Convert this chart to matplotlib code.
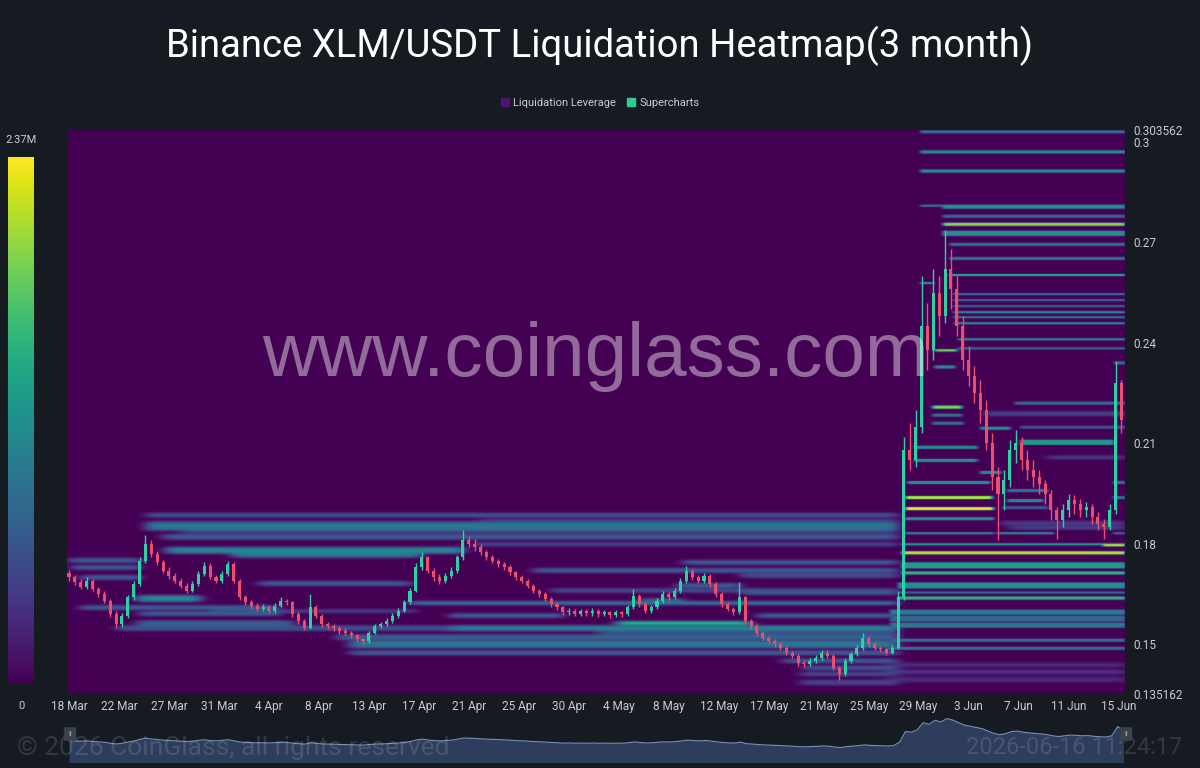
import numpy as np
import matplotlib
matplotlib.use("Agg")
import matplotlib.pyplot as plt
from matplotlib.patches import Patch, FancyBboxPatch

# ---------------- data ----------------
title = "Binance XLM/USDT Liquidation Heatmap(3 month)"
legend_labels = ["Liquidation Leverage", "Supercharts"]

# x axis: days since 18 Mar
x_tick_pos = [0, 4.25, 8.5, 12.75, 17, 21.25, 25.5, 29.75, 34, 38.25, 42.5,
              46.75, 51, 55.25, 59.5, 63.75, 68, 72.25, 76.5, 80.75, 85, 89.25]
x_tick_labels = ["18 Mar", "22 Mar", "27 Mar", "31 Mar", "4 Apr", "8 Apr", "13 Apr",
                 "17 Apr", "21 Apr", "25 Apr", "30 Apr", "4 May", "8 May", "12 May",
                 "17 May", "21 May", "25 May", "29 May", "3 Jun", "7 Jun", "11 Jun", "15 Jun"]
x_range = [-0.17, 89.8]
y_ticks = [0.135162, 0.15, 0.18, 0.21, 0.24, 0.27, 0.3, 0.303562]
y_tick_labels = ["0.135162", "0.15", "0.18", "0.21", "0.24", "0.27", "0.3", "0.303562"]
cbar_max_label = "2.37M"
cbar_max = 2.37  # millions
rally_day = 70.4  # levels built before the 29 May breakout end here

# 12h candles starting 18 Mar
candle_step = 0.5
first_open = 0.1712
closes = [
    0.1700, 0.1685, 0.1672, 0.1690, 0.1665, 0.1650, 0.1630, 0.1590, 0.1560, 0.1585,
    0.1640, 0.1680, 0.1750, 0.1800, 0.1770, 0.1745, 0.1720, 0.1705, 0.1690, 0.1675,
    0.1660, 0.1680, 0.1710, 0.1735, 0.1700, 0.1690, 0.1710, 0.1740, 0.1690, 0.1640,
    0.1625, 0.1615, 0.1605, 0.1612, 0.1600, 0.1615, 0.1630, 0.1625, 0.1590, 0.1570,
    0.1550, 0.1610, 0.1585, 0.1560, 0.1555, 0.1548, 0.1540, 0.1535, 0.1528, 0.1515,
    0.1510, 0.1535, 0.1555, 0.1560, 0.1570, 0.1585, 0.1600, 0.1625, 0.1660, 0.1730,
    0.1760, 0.1720, 0.1700, 0.1690, 0.1705, 0.1720, 0.1760, 0.1810, 0.1800, 0.1790,
    0.1775, 0.1760, 0.1750, 0.1740, 0.1730, 0.1715, 0.1700, 0.1690, 0.1675, 0.1660,
    0.1650, 0.1635, 0.1620, 0.1610, 0.1595, 0.1600, 0.1590, 0.1598, 0.1592, 0.1600,
    0.1590, 0.1596, 0.1588, 0.1595, 0.1590, 0.1610, 0.1645, 0.1620, 0.1600, 0.1610,
    0.1630, 0.1650, 0.1640, 0.1660, 0.1690, 0.1720, 0.1700, 0.1690, 0.1705, 0.1680,
    0.1650, 0.1620, 0.1605, 0.1595, 0.1640, 0.1570, 0.1555, 0.1535, 0.1520, 0.1510,
    0.1500, 0.1490, 0.1475, 0.1465, 0.1445, 0.1440, 0.1450, 0.1460, 0.1475, 0.1465,
    0.1430, 0.1410, 0.1450, 0.1470, 0.1490, 0.1520, 0.1500, 0.1490, 0.1485, 0.1475,
    0.1490, 0.1640, 0.2080, 0.2050, 0.2150, 0.2450, 0.2380, 0.2550, 0.2480, 0.2620,
    0.2560, 0.2450, 0.2350, 0.2300, 0.2250, 0.2200, 0.2100, 0.2000, 0.1950, 0.1990,
    0.2080, 0.2100, 0.2050, 0.2020, 0.2000, 0.1980, 0.1950, 0.1900, 0.1870, 0.1900,
    0.1930, 0.1920, 0.1900, 0.1910, 0.1880, 0.1860, 0.1850, 0.1900, 0.2280, 0.2170,
]
highs = [
    0.1722, 0.1708, 0.1694, 0.1700, 0.1695, 0.1672, 0.1658, 0.1636, 0.1598, 0.1592,
    0.1648, 0.1690, 0.1762, 0.1826, 0.1812, 0.1778, 0.1752, 0.1730, 0.1714, 0.1698,
    0.1682, 0.1688, 0.1718, 0.1745, 0.1742, 0.1708, 0.1718, 0.1750, 0.1745, 0.1696,
    0.1648, 0.1632, 0.1622, 0.1620, 0.1618, 0.1622, 0.1640, 0.1636, 0.1630, 0.1596,
    0.1576, 0.1650, 0.1618, 0.1590, 0.1566, 0.1562, 0.1554, 0.1548, 0.1540, 0.1532,
    0.1520, 0.1540, 0.1562, 0.1568, 0.1578, 0.1592, 0.1608, 0.1632, 0.1668, 0.1742,
    0.1775, 0.1765, 0.1728, 0.1710, 0.1714, 0.1730, 0.1768, 0.1842, 0.1822, 0.1815,
    0.1798, 0.1782, 0.1768, 0.1756, 0.1746, 0.1736, 0.1720, 0.1706, 0.1696, 0.1680,
    0.1665, 0.1655, 0.1640, 0.1626, 0.1615, 0.1608, 0.1606, 0.1604, 0.1604, 0.1608,
    0.1605, 0.1602, 0.1600, 0.1602, 0.1600, 0.1618, 0.1665, 0.1650, 0.1625, 0.1618,
    0.1638, 0.1660, 0.1656, 0.1668, 0.1698, 0.1735, 0.1726, 0.1708, 0.1712, 0.1710,
    0.1686, 0.1656, 0.1626, 0.1612, 0.1685, 0.1645, 0.1576, 0.1560, 0.1540, 0.1526,
    0.1516, 0.1506, 0.1496, 0.1480, 0.1470, 0.1452, 0.1458, 0.1468, 0.1484, 0.1482,
    0.1470, 0.1436, 0.1458, 0.1478, 0.1498, 0.1535, 0.1526, 0.1506, 0.1496, 0.1490,
    0.1498, 0.1660, 0.2120, 0.2160, 0.2200, 0.2600, 0.2520, 0.2620, 0.2600, 0.2737,
    0.2680, 0.2600, 0.2480, 0.2390, 0.2330, 0.2290, 0.2230, 0.2130, 0.2030, 0.2020,
    0.2110, 0.2140, 0.2120, 0.2080, 0.2050, 0.2020, 0.1990, 0.1960, 0.1910, 0.1920,
    0.1950, 0.1945, 0.1935, 0.1925, 0.1920, 0.1895, 0.1875, 0.1920, 0.2346, 0.2290,
]
lows = [
    0.1690, 0.1676, 0.1664, 0.1666, 0.1658, 0.1641, 0.1622, 0.1581, 0.1548, 0.1552,
    0.1580, 0.1632, 0.1675, 0.1742, 0.1760, 0.1736, 0.1712, 0.1696, 0.1682, 0.1668,
    0.1652, 0.1655, 0.1674, 0.1704, 0.1694, 0.1682, 0.1684, 0.1705, 0.1682, 0.1632,
    0.1616, 0.1606, 0.1598, 0.1598, 0.1592, 0.1594, 0.1610, 0.1616, 0.1582, 0.1562,
    0.1542, 0.1546, 0.1578, 0.1552, 0.1546, 0.1540, 0.1532, 0.1528, 0.1520, 0.1508,
    0.1500, 0.1505, 0.1530, 0.1548, 0.1554, 0.1564, 0.1578, 0.1595, 0.1620, 0.1655,
    0.1722, 0.1712, 0.1690, 0.1680, 0.1684, 0.1698, 0.1714, 0.1752, 0.1790, 0.1780,
    0.1766, 0.1752, 0.1742, 0.1732, 0.1722, 0.1708, 0.1692, 0.1682, 0.1668, 0.1652,
    0.1642, 0.1628, 0.1612, 0.1602, 0.1588, 0.1588, 0.1584, 0.1584, 0.1586, 0.1586,
    0.1583, 0.1584, 0.1580, 0.1582, 0.1582, 0.1586, 0.1606, 0.1612, 0.1592, 0.1594,
    0.1604, 0.1624, 0.1632, 0.1634, 0.1654, 0.1684, 0.1692, 0.1682, 0.1684, 0.1672,
    0.1642, 0.1612, 0.1598, 0.1588, 0.1590, 0.1562, 0.1546, 0.1526, 0.1512, 0.1502,
    0.1492, 0.1482, 0.1468, 0.1458, 0.1436, 0.1432, 0.1434, 0.1444, 0.1454, 0.1458,
    0.1422, 0.1392, 0.1404, 0.1444, 0.1464, 0.1484, 0.1492, 0.1482, 0.1476, 0.1468,
    0.1470, 0.1486, 0.1632, 0.2020, 0.2030, 0.2130, 0.2320, 0.2350, 0.2420, 0.2460,
    0.2500, 0.2420, 0.2320, 0.2270, 0.2220, 0.2160, 0.2080, 0.1960, 0.1811, 0.1900,
    0.1970, 0.2040, 0.2020, 0.1990, 0.1970, 0.1950, 0.1920, 0.1870, 0.1815, 0.1850,
    0.1880, 0.1890, 0.1880, 0.1880, 0.1860, 0.1840, 0.1815, 0.1840, 0.1890, 0.2130,
]

# liquidation levels: price, start day, end day, value (M), price thickness
band_price = [
    0.3031, 0.2971, 0.2913, 0.2809, 0.2807, 0.2779, 0.2755, 0.2728, 0.2695, 0.2653,
    0.2603, 0.2579, 0.2546, 0.2528, 0.2510, 0.2492, 0.2477, 0.2459, 0.2411, 0.2384,
    0.2378, 0.2340, 0.2328, 0.2220, 0.2208, 0.2190, 0.2184, 0.2160, 0.2148, 0.2145,
    0.2104, 0.2089, 0.2059, 0.2050, 0.2014, 0.1984, 0.1984, 0.1960, 0.1939, 0.1939,
    0.1930, 0.1909, 0.1906, 0.1876, 0.1862, 0.1832, 0.1832, 0.1832, 0.1799, 0.1796,
    0.1772, 0.1736, 0.1712, 0.1676, 0.1655, 0.1637, 0.1597, 0.1577, 0.1557, 0.1512,
    0.1488, 0.1440,
    0.1886, 0.1862, 0.1852, 0.1820, 0.1781, 0.1766, 0.1751, 0.1730, 0.1700, 0.1682,
    0.1636, 0.1611, 0.1593, 0.1563, 0.1549, 0.1549, 0.1522, 0.1500, 0.1476, 0.1452,
    0.1431, 0.1413, 0.1386, 0.1745, 0.1721, 0.1706, 0.1676, 0.1655, 0.1631, 0.1622,
    0.1587, 0.1587, 0.1563, 0.1800, 0.1838, 0.1870, 0.1535, 0.1660, 0.1600,
    0.1848, 0.1418, 0.1396,
]
band_start = [
    72.4, 72.4, 72.4, 72.4, 74.3, 74.3, 74.3, 74.3, 74.9, 74.9,
    74.9, 72.4, 75.2, 75.2, 75.2, 75.2, 75.2, 75.3, 75.6, 75.6,
    73.6, 88.9, 73.6, 80.4, 73.4, 77.9, 73.4, 73.4, 80.9, 77.5,
    80.9, 71.9, 83.2, 71.9, 77.5, 71.3, 88.8, 79.8, 71.1, 88.8,
    79.8, 79.4, 71.1, 71.1, 79.2, 71.1, 78.9, 88.8, 70.8, 87.9,
    70.8, 70.8, 70.8, 70.5, 70.5, 70.5, 69.8, 69.8, 69.8, 69.8,
    69.5, 69.5,
    6.6, 6.6, 6.6, 8.0, 8.3, 13.9, 0.0, 0.3, 1.0, 16.2,
    5.8, 1.0, 6.0, 5.8, 4.1, 32.4, 22.8, 23.9, 23.9, 60.7,
    62.4, 62.2, 62.2, 52.2, 39.5, 57.1, 51.7, 57.3, 48.6, 29.0,
    32.4, 58.5, 46.6, 34.5, 9.5, 35.0, 45.0, 41.0, 12.0,
    80.0, 69.5, 69.5,
]
band_end = [
    89.8, 89.8, 89.8, 74.3, 89.8, 89.8, 89.8, 89.8, 89.8, 89.8,
    89.8, 73.5, 89.8, 89.8, 89.8, 89.8, 89.8, 89.8, 89.8, 89.8,
    75.5, 89.8, 75.3, 89.8, 75.9, 89.8, 75.9, 76.0, 89.8, 80.0,
    88.8, 77.2, 89.8, 77.2, 79.2, 78.3, 89.8, 83.2, 78.5, 89.8,
    82.8, 83.2, 78.6, 78.6, 89.8, 78.6, 83.7, 89.8, 89.8, 89.8,
    89.8, 89.8, 89.8, 89.8, 89.8, 89.8, 89.8, 89.8, 89.8, 89.8,
    89.8, 89.8,
    70.4, 70.4, 70.4, 70.4, 33.5, 29.8, 6.0, 6.0, 6.0, 29.0,
    11.1, 17.7, 17.9, 19.0, 32.4, 70.4, 70.4, 70.4, 70.4, 70.4,
    70.4, 70.4, 70.4, 70.4, 70.4, 70.4, 57.1, 70.4, 52.2, 70.4,
    42.0, 70.4, 57.9, 70.4, 70.4, 70.4, 70.4, 70.4, 29.5,
    89.8, 89.8, 89.8,
]
band_value = [
    0.9, 1.2, 1.2, 1.0, 1.2, 0.8, 2.0, 1.2, 0.9, 0.9,
    1.5, 1.2, 0.9, 0.8, 0.8, 1.2, 0.9, 1.2, 1.2, 0.9,
    2.1, 0.9, 1.2, 0.8, 2.0, 0.55, 0.9, 0.9, 0.6, 1.2,
    1.3, 1.2, 0.5, 1.2, 1.2, 1.2, 0.9, 0.9, 2.2, 0.9,
    1.2, 0.65, 2.37, 1.2, 0.45, 1.2, 1.2, 0.9, 1.3, 2.3,
    2.2, 1.3, 1.6, 1.2, 0.9, 1.6, 1.0, 0.8, 0.95, 0.9,
    0.9, 0.32,
    0.65, 0.6, 0.95, 0.7, 1.1, 0.95, 0.75, 0.75, 0.75, 0.75,
    1.15, 0.75, 0.75, 0.75, 0.6, 1.05, 0.75, 0.95, 0.75, 0.7,
    0.65, 0.55, 0.5, 0.75, 0.75, 0.65, 0.75, 0.75, 0.75, 1.05,
    0.75, 0.75, 1.9, 0.5, 0.5, 0.5, 0.55, 0.55, 0.5,
    0.55, 0.4, 0.3,
]
band_thick = [
    0.0008, 0.0008, 0.0008, 0.0006, 0.0014, 0.0008, 0.0008, 0.0014, 0.0008, 0.0008,
    0.0008, 0.0008, 0.0008, 0.0006, 0.0006, 0.0008, 0.0006, 0.0008, 0.0008, 0.0008,
    0.0008, 0.0008, 0.0008, 0.0008, 0.0008, 0.0012, 0.0008, 0.0008, 0.0010, 0.0008,
    0.0014, 0.0008, 0.0010, 0.0008, 0.0008, 0.0008, 0.0008, 0.0010, 0.0009, 0.0008,
    0.0008, 0.0010, 0.0009, 0.0008, 0.0010, 0.0008, 0.0008, 0.0008, 0.0007, 0.0008,
    0.0009, 0.0016, 0.0009, 0.0016, 0.0008, 0.0009, 0.0016, 0.0020, 0.0016, 0.0008,
    0.0010, 0.0012,
    0.0012, 0.0012, 0.0020, 0.0015, 0.0016, 0.0012, 0.0012, 0.0012, 0.0012, 0.0012,
    0.0018, 0.0012, 0.0012, 0.0014, 0.0014, 0.0014, 0.0014, 0.0020, 0.0012, 0.0012,
    0.0012, 0.0012, 0.0014, 0.0012, 0.0012, 0.0012, 0.0012, 0.0012, 0.0012, 0.0009,
    0.0012, 0.0012, 0.0009, 0.0012, 0.0012, 0.0010, 0.0010, 0.0012, 0.0010,
    0.0008, 0.0012, 0.0015,
]

# ---------------- style ----------------
BG = "#161b22"
TXT = "#c9ccd1"
UP = "#2dd1a3"
DOWN = "#ec4f6e"

W, H = 1200, 768
fig = plt.figure(figsize=(W / 100, H / 100), dpi=100, facecolor=BG)
plt.rcParams["font.family"] = ["Roboto", "DejaVu Sans"]

def fx(px):
    return px / W

def fy(py):
    return 1 - py / H

ax = fig.add_axes([fx(67), fy(694), fx(1125) - fx(67), fy(130) - fy(694)])
ax.set_facecolor(BG)
p_lo, p_hi = y_ticks[0], y_ticks[-1]

# heat grid
t_step, p_step = 0.1, 0.0003
t_edges = np.arange(x_range[0], x_range[1] + t_step, t_step)
p_edges = np.arange(p_lo, p_hi + p_step, p_step)
tc = 0.5 * (t_edges[:-1] + t_edges[1:])
pc = 0.5 * (p_edges[:-1] + p_edges[1:])
soft = np.zeros((len(pc), len(tc)))
sharp = np.zeros((len(pc), len(tc)))
for p, s, e, v, w in zip(band_price, band_start, band_end, band_value, band_thick):
    g = soft if (e <= rally_day or v < 0.6) else sharp
    rows = np.abs(pc - p) <= max(w / 2, p_step * 0.55)
    cols = (tc >= s) & (tc <= e)
    sub = np.ix_(rows, cols)
    g[sub] = np.maximum(g[sub], v)

def gauss_blur(a, sig, axis):
    r = int(np.ceil(3 * sig))
    k = np.exp(-0.5 * (np.arange(-r, r + 1) / sig) ** 2)
    k /= k.sum()
    return np.apply_along_axis(lambda m: np.convolve(m, k, mode="same"), axis, a)

soft = gauss_blur(gauss_blur(soft, 1.2, 0), 5.0, 1)
sharp = gauss_blur(gauss_blur(sharp, 0.5, 0), 1.5, 1)
grid = np.maximum(soft, sharp)

ax.imshow(grid, cmap="viridis", vmin=0, vmax=cbar_max, origin="lower", aspect="auto",
          extent=[t_edges[0], t_edges[-1], p_edges[0], p_edges[-1]],
          interpolation="bilinear", zorder=0)

# candles
c = np.array(closes)
o = np.concatenate([[first_open], c[:-1]])
hi = np.array(highs)
lo = np.array(lows)
t = np.arange(len(c)) * candle_step
cols = np.where(c >= o, UP, DOWN)
ax.vlines(t, lo, hi, colors=cols, lw=1.0, zorder=3)
body = np.maximum(np.abs(c - o), 0.0004)
ax.bar(t, body, bottom=np.minimum(o, c), width=0.26, color=cols, linewidth=0, zorder=4)

ax.set_xlim(*x_range)
ax.set_ylim(p_lo, p_hi)
ax.set_xticks(x_tick_pos)
ax.set_xticklabels(x_tick_labels)
ax.yaxis.tick_right()
ax.set_yticks(y_ticks)
ax.set_yticklabels(y_tick_labels)
ax.tick_params(axis="both", length=0, colors=TXT, labelsize=8.5)
ax.tick_params(axis="y", pad=6)
ax.tick_params(axis="x", pad=4)
for sp in ax.spines.values():
    sp.set_visible(False)

# watermark
fig.text(fx(595), fy(357), "www.coinglass.com", color="white", alpha=0.42,
         fontsize=55, ha="center", va="center", family=["Liberation Sans"], zorder=10)

# title
fig.text(0.5, fy(46), title, color="white", fontsize=27.5, ha="center", va="center")

# legend
handles = [Patch(color="#4e1470"), Patch(color="#2ecc8e")]
fig.legend(handles, legend_labels, loc="center", bbox_to_anchor=(fx(600), fy(103)),
           ncol=2, frameon=False, fontsize=8, labelcolor=TXT, handlelength=0.7,
           handleheight=0.7, handletextpad=0.4, columnspacing=1.0)

# colorbar
cax = fig.add_axes([fx(8), fy(683), fx(26), fy(157) - fy(683)])
grad = np.linspace(0, 1, 256).reshape(-1, 1)
cax.imshow(grad, cmap="viridis", aspect="auto", origin="lower")
cax.set_axis_off()
fig.text(fx(21), fy(140), cbar_max_label, color=TXT, fontsize=8, ha="center", va="center")
fig.text(fx(21), fy(706), "0", color=TXT, fontsize=8, ha="center", va="center")

# navigator
nav = fig.add_axes([fx(67), fy(762), fx(1127) - fx(67), fy(710) - fy(762)])
nav.set_facecolor(BG)
nav.fill_between(t, c, 0, color="#30405f", alpha=0.95, lw=0)
nav.plot(t, c, color="#7a8fbf", lw=0.8)
nav.set_xlim(*x_range)
nav.set_ylim(0.0805, 0.298)
nav.set_axis_off()
for hx in (70, 1126):
    fig.patches.append(FancyBboxPatch((fx(hx - 5), fy(740)), fx(10), fy(728) - fy(740),
                                      boxstyle="round,pad=0.001", transform=fig.transFigure,
                                      facecolor="#3b414d", edgecolor="none", zorder=5))
    fig.text(fx(hx), fy(734), "II", color="#aab0bb", fontsize=5, ha="center", va="center", zorder=6)

fig.text(fx(17), fy(748), "\u00a9 2026 CoinGlass, all rights reserved", color="white", alpha=0.13,
         fontsize=19, ha="left", va="center")
fig.text(fx(1182), fy(748), "2026-06-16 11:24:17", color="white", alpha=0.13,
         fontsize=17, ha="right", va="center")

fig.savefig("out.png", dpi=100, facecolor=BG)
